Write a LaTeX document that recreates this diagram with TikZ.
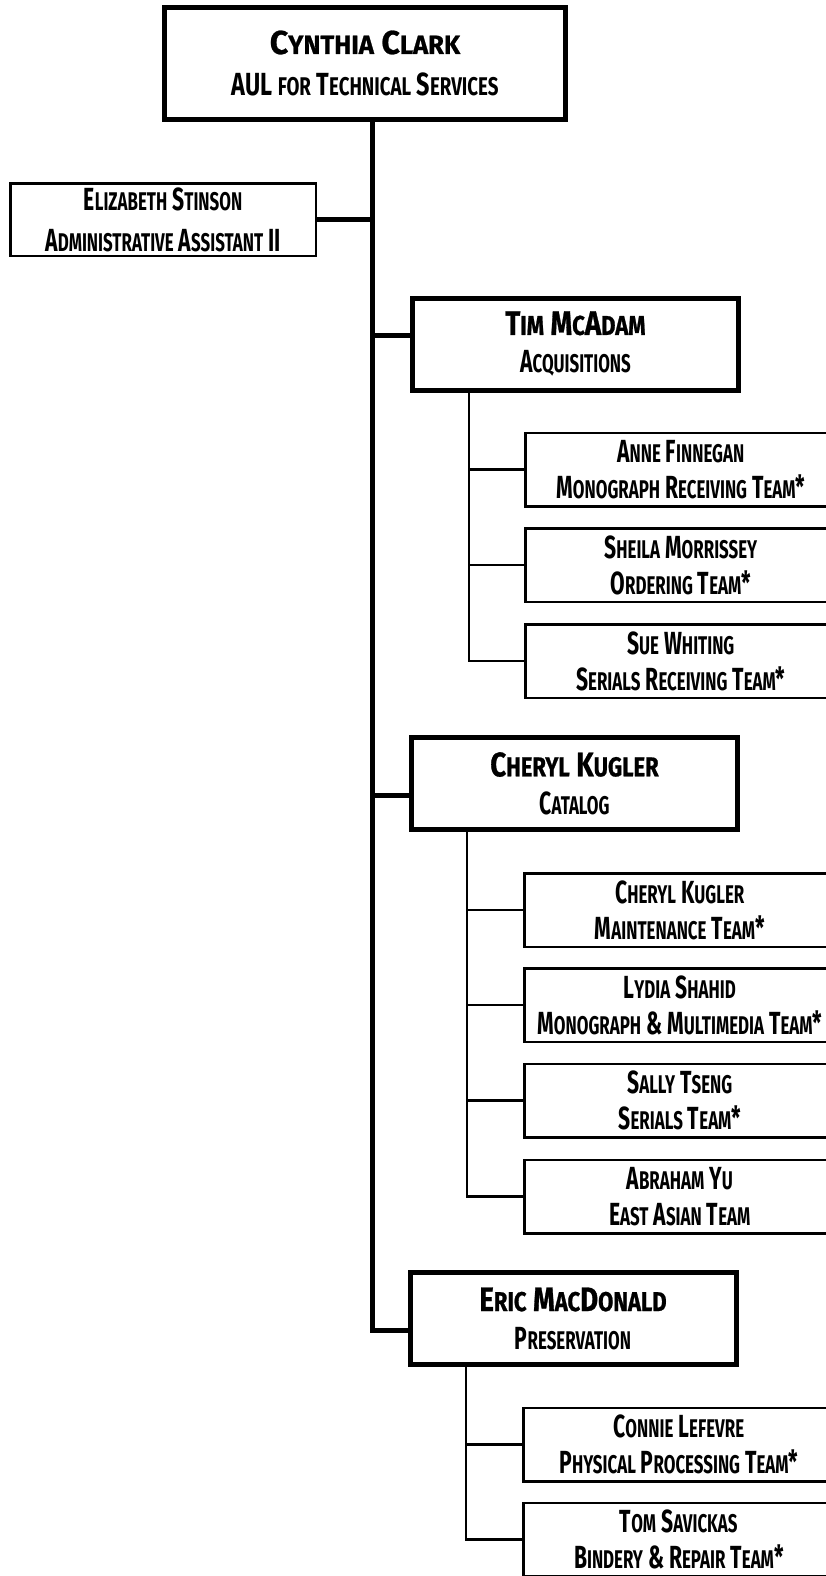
\documentclass[tikz,border=0pt]{standalone}
\usepackage{graphicx}
\usepackage{fontspec}
\setmainfont{Fira Sans}[FakeStretch=0.66]
\newfontfamily\headfont{Fira Sans}[FakeStretch=0.81, FakeBold=0.8]
\newfontfamily\chieffont{Fira Sans}[FakeStretch=0.97, FakeBold=0.8]
\newfontfamily\titlefont{Fira Sans}[FakeStretch=0.73]
% small-capital letters drawn as reduced capitals
\newcommand\sk[1]{\scalebox{0.8}{\uppercase{#1}}}
\newcommand\headline[1]{{\headfont\bfseries\fontsize{34}{38}\selectfont #1}}
\begin{document}
\begin{tikzpicture}[x=1pt,y=-1pt,
  every node/.style={inner sep=0pt, outer sep=0pt, align=center},
  chiefbox/.style={draw, line width=5pt, minimum width=401pt, minimum height=112pt},
  mgrbox/.style={draw, line width=5pt, minimum width=326pt, minimum height=92pt},
  asstbox/.style={draw, line width=2.5pt, minimum width=305.5pt, minimum height=72.5pt,
    execute at begin node=\rule{0pt}{31pt}},
  teambox/.style={draw, line width=2.5pt, minimum width=311pt, minimum height=73.5pt,
    execute at begin node=\rule{0pt}{34pt}},
  bigtxt/.style={font=\bfseries\fontsize{32}{38}\selectfont},
  smalltxt/.style={font=\bfseries\fontsize{32}{36}\selectfont},
  trunk/.style={line width=5pt},
  twig/.style={line width=2.5pt},
]
\path[use as bounding box, clip] (0,0) rectangle (826,1576);

% chief and assistant
\node[chiefbox, bigtxt] (ceo) at (365,63.5)
  {{\chieffont\bfseries\fontsize{33}{42}\selectfont C\sk{ynthia} C\sk{lark}}\\[4pt]
   {\titlefont\bfseries AUL \sk{for} T\sk{echnical} S\sk{ervices}}};
\node[asstbox, font=\bfseries\fontsize{32}{41}\selectfont] (asst) at (163,219.5)
  {E\sk{lizabeth} S\sk{tinson}\\A\sk{dministrative} A\sk{ssistant} II};

% department heads
\node[mgrbox, bigtxt] (tim) at (575.5,344)
  {\headline{T\sk{im} M\sk{c}A\sk{dam}}\\A\sk{cquisitions}};
\node[mgrbox, bigtxt] (cheryl) at (574.5,783.5)
  {\headline{C\sk{heryl} K\sk{ugler}}\\C\sk{atalog}};
\node[mgrbox, bigtxt] (eric) at (573,1318.5)
  {\headline{E\sk{ric} M\sk{ac}D\sk{onald}}\\P\sk{reservation}};

% acquisitions teams
\node[teambox, smalltxt] (anne) at (680.75,469.5)
  {A\sk{nne} F\sk{innegan}\\M\sk{onograph} R\sk{eceiving} T\sk{eam}*};
\node[teambox, smalltxt] (sheila) at (680.75,565)
  {S\sk{heila} M\sk{orrissey}\\O\sk{rdering} T\sk{eam}*};
\node[teambox, smalltxt] (sue) at (680.75,661)
  {S\sk{ue} W\sk{hiting}\\S\sk{erials} R\sk{eceiving} T\sk{eam}*};

% catalog teams
\node[teambox, smalltxt] (maint) at (679.75,910)
  {C\sk{heryl} K\sk{ugler}\\M\sk{aintenance} T\sk{eam}*};
\node[teambox, smalltxt] (lydia) at (679.75,1005)
  {L\sk{ydia} S\sk{hahid}\\M\sk{onograph} \& M\sk{ultimedia} T\sk{eam}*};
\node[teambox, smalltxt] (sally) at (679.75,1100.5)
  {S\sk{ally} T\sk{seng}\\S\sk{erials} T\sk{eam}*};
\node[teambox, smalltxt] (abraham) at (679.75,1196.5)
  {A\sk{braham} Y\sk{u}\\E\sk{ast} A\sk{sian} T\sk{eam}};

% preservation teams
\node[teambox, smalltxt] (connie) at (678.75,1444.5)
  {C\sk{onnie} L\sk{efevre}\\P\sk{hysical} P\sk{rocessing} T\sk{eam}*};
\node[teambox, smalltxt] (tom) at (678.75,1539.5)
  {T\sk{om} S\sk{avickas}\\B\sk{indery} \& R\sk{epair} T\sk{eam}*};

% main trunk with its branches
\coordinate (trunkend) at (372,1330);
\coordinate (jtim) at (372,335);
\coordinate (jcheryl) at (372,795);
\draw[trunk] (ceo.south -| trunkend) -- (trunkend) -- (trunkend -| eric.west);
\draw[trunk] (asst.east) -- (asst.east -| trunkend);
\draw[trunk] (jtim) -- (jtim -| tim.west);
\draw[trunk] (jcheryl) -- (jcheryl -| cheryl.west);

% acquisitions branch
\coordinate (tx) at (469,0);
\draw[twig] (tim.south -| tx) -- (sue.west -| tx) -- (sue.west);
\draw[twig] (anne.west -| tx) -- (anne.west);
\draw[twig] (sheila.west -| tx) -- (sheila.west);

% catalog branch
\coordinate (cx) at (467,0);
\draw[twig] (cheryl.south -| cx) -- (abraham.west -| cx) -- (abraham.west);
\draw[twig] (maint.west -| cx) -- (maint.west);
\draw[twig] (lydia.west -| cx) -- (lydia.west);
\draw[twig] (sally.west -| cx) -- (sally.west);

% preservation branch
\coordinate (ex) at (466,0);
\draw[twig] (eric.south -| ex) -- (tom.west -| ex) -- (tom.west);
\draw[twig] (connie.west -| ex) -- (connie.west);
\end{tikzpicture}
\end{document}
